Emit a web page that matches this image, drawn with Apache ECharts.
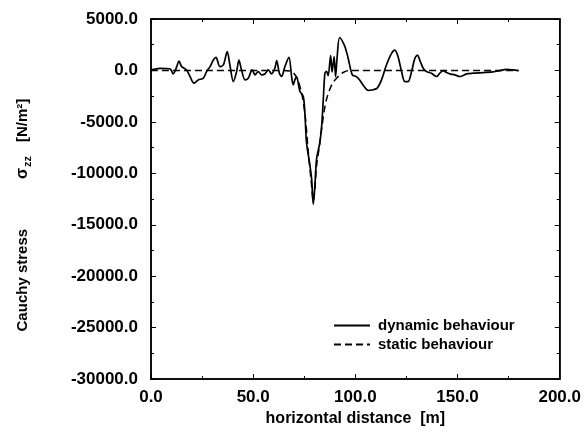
<!DOCTYPE html>
<html>
<head>
<meta charset="utf-8">
<script src="https://cdn.jsdelivr.net/npm/echarts@6/dist/echarts.min.js"></script>
<style>html,body{margin:0;padding:0;background:#fff}#c{width:584px;height:432px}</style>
</head>
<body>
<div id="c"></div>
<script>
var xTicks = [0, 50, 100, 150, 200];
var yTicks = [5000, 0, -5000, -10000, -15000, -20000, -25000, -30000];

var dynamicX = [0, 4.4, 9.3, 10.9, 12.6, 13.7, 15.0, 17.4, 19.1, 21.0, 23.1, 25.6, 27.2, 28.9, 30.5, 31.8, 33.7, 35.4, 37.3, 38.6, 40.3, 41.9, 43.0, 44.3, 46.0, 47.6, 49.5, 50.9, 52.5, 54.1, 55.7, 57.4, 59.0, 60.6, 61.5, 62.8, 63.9, 65.5, 67.5, 68.8, 69.6, 70.4, 71.2, 72.9, 74.5, 75.3, 76.1, 77.8, 78.6, 79.4, 80.2, 81.0, 82.6, 83.5, 84.3, 85.1, 85.9, 86.7, 87.9, 88.6, 89.6, 90.3, 91.1, 92.3, 94.5, 95.9, 96.8, 98.5, 100.5, 102.0, 104.3, 106.3, 108.7, 110.7, 112.8, 115.2, 117.7, 119.3, 120.9, 122.6, 124.2, 125.8, 127.5, 129.1, 130.4, 131.5, 133.2, 134.8, 137.2, 139.7, 141.3, 143.0, 144.6, 146.2, 148.7, 151.1, 154.4, 157.6, 162.5, 167.4, 170.7, 173.9, 177.2, 179.6];
var dynamicY = [50, 200, 150, -340, 370, 920, 370, 50, -590, -1240, -920, -750, -110, 370, 1010, 1270, 370, 530, 1820, 530, -1080, -110, 1010, 50, -920, -750, 50, -430, -110, -430, -340, 50, -340, 210, 950, -270, -590, 370, 1270, -590, -1400, -920, -590, -2040, -2520, -4130, -7020, -9270, -10560, -13000, -11200, -8630, -7020, -5410, -2840, -270, -100, -500, 1450, -150, 1350, -600, 1330, 3200, 2500, 1650, 900, -430, -600, -900, -1560, -1940, -1880, -1720, -920, 530, 1660, 1980, 1330, -110, -1080, -1080, -110, 1170, 1500, 1010, 210, -110, -270, -590, -270, -20, -210, -340, -430, -590, -340, -270, -210, -145, -20, 110, 50, -20];

var staticX = [0, 65, 68, 70, 72, 74, 75.5, 77, 78.5, 79.4, 80.2, 81, 82.3, 83.5, 84.7, 85.9, 88.4, 90.8, 94, 97.3, 180];
var staticY = [0, 0, -50, -300, -1000, -2500, -4500, -8000, -11000, -12700, -11500, -9300, -7500, -5700, -4000, -2800, -1400, -750, -200, 0, 0];

function pairs(xs, ys) { return xs.map(function (x, i) { return [x, ys[i]]; }); }

var FONT = '"Liberation Sans", Arial, Helvetica, sans-serif';
var chart = echarts.init(document.getElementById('c'), null, {renderer: 'canvas'});
var tickStyle = {show: true, inside: true, length: 5, lineStyle: {color: '#000', width: 1}};
var minorStyle = {show: true, splitNumber: 2, length: 3, lineStyle: {color: '#000', width: 1}};
var lblStyle = {fontFamily: FONT, fontSize: 17, fontWeight: 'bold', color: '#000'};
chart.setOption({
  backgroundColor: '#fff',
  animation: false,
  grid: {left: 151, top: 19, right: 24, bottom: 50, containLabel: false,
    show: true, borderColor: '#000', borderWidth: 1.5, backgroundColor: 'transparent'},
  legend: {
    orient: 'vertical', left: 333, top: 318, padding: 0, itemWidth: 36, itemHeight: 14, itemGap: 4,
    itemStyle: {opacity: 0},
    textStyle: {fontFamily: FONT, fontSize: 15, fontWeight: 'bold', color: '#000', padding: [0, 0, 0, 3]},
    data: ['dynamic behaviour', 'static behaviour']
  },
  xAxis: [{
    type: 'value', min: xTicks[0], max: xTicks[xTicks.length - 1], interval: 50,
    name: 'horizontal distance  [m]', nameLocation: 'middle', nameGap: 28,
    nameTextStyle: {fontFamily: FONT, fontSize: 16, fontWeight: 'bold', color: '#000'},
    axisLine: {onZero: false, lineStyle: {color: '#000', width: 1.5}},
    axisTick: tickStyle, minorTick: minorStyle, splitLine: {show: false},
    axisLabel: Object.assign({margin: 10, formatter: function (v) { return v.toFixed(1); }}, lblStyle)
  }, {
    type: 'value', position: 'top', min: xTicks[0], max: xTicks[xTicks.length - 1], interval: 50,
    axisLine: {show: true, onZero: false, lineStyle: {color: '#000', width: 1.5}},
    axisTick: tickStyle, minorTick: minorStyle, axisLabel: {show: false}, splitLine: {show: false}
  }],
  yAxis: [{
    type: 'value', min: yTicks[yTicks.length - 1], max: yTicks[0], interval: 5000,
    name: '{a|Cauchy stress}{sp1|}{g|σ}{sub|zz}{sp2|}{a|[N/m²]}{sp3|}',
    nameLocation: 'middle', nameGap: 118, nameRotate: 90,
    nameTextStyle: {fontFamily: FONT, fontSize: 15, fontWeight: 'bold', color: '#000',
      rich: {
        a: {fontFamily: FONT, fontSize: 15, fontWeight: 'bold', color: '#000'},
        sp1: {width: 50},
        sp2: {width: 14},
        sp3: {width: 32},
        g: {fontFamily: FONT, fontSize: 16, color: '#000'},
        sub: {fontFamily: FONT, fontSize: 11, fontWeight: 'bold', color: '#000', padding: [9, 0, 0, 1]}
      }},
    axisLine: {onZero: false, lineStyle: {color: '#000', width: 1.5}},
    axisTick: tickStyle, minorTick: minorStyle, splitLine: {show: false},
    axisLabel: Object.assign({margin: 13, formatter: function (v) { return v.toFixed(1); }}, lblStyle)
  }, {
    type: 'value', position: 'right', min: yTicks[yTicks.length - 1], max: yTicks[0], interval: 5000,
    axisLine: {show: true, onZero: false, lineStyle: {color: '#000', width: 1.5}},
    axisTick: tickStyle, minorTick: minorStyle, axisLabel: {show: false}, splitLine: {show: false}
  }],
  series: [{
    name: 'dynamic behaviour', type: 'line', data: pairs(dynamicX, dynamicY),
    smooth: 0.3, symbol: 'none', lineStyle: {color: '#000', width: 1.7}, itemStyle: {color: '#000'}, z: 3
  }, {
    name: 'static behaviour', type: 'line', data: pairs(staticX, staticY),
    smooth: 0.3, symbol: 'none', lineStyle: {color: '#000', width: 1.5, type: [7, 4]}, itemStyle: {color: '#000'}, z: 2
  }]
});
</script>
</body>
</html>
